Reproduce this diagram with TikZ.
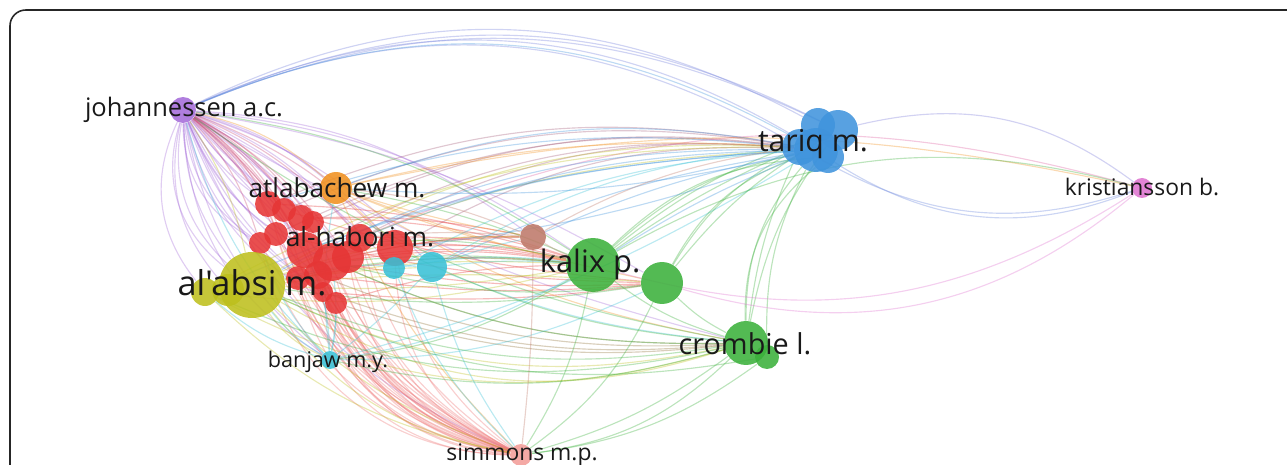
\documentclass[tikz,border=0pt]{standalone}
\usepackage{fontspec}
\setmainfont{Open Sans}[Ligatures=TeXOff]
\definecolor{cPurple}{HTML}{A46BD9}
\definecolor{cOrange}{HTML}{F0901E}
\definecolor{cRed}{HTML}{E63535}
\definecolor{cYellow}{HTML}{BDBF1C}
\definecolor{cCyan}{HTML}{37C0D6}
\definecolor{cBrown}{HTML}{BE7868}
\definecolor{cGreen}{HTML}{3AB03A}
\definecolor{cBlue}{HTML}{3F93DC}
\definecolor{cPink}{HTML}{DE72CF}
\definecolor{cSalmon}{HTML}{F29C98}
\pgfdeclarelayer{links}
\pgfsetlayers{links,main}
\begin{document}
\begin{tikzpicture}[x=0.02cm,y=0.02cm,
  lnk/.style={line width=0.65pt, draw opacity=0.34},
  bub/.style={circle, inner sep=0pt, minimum size=0.04cm*#1, fill opacity=0.87, draw=none},
  lab/.style={text=black!90, anchor=base, inner sep=0pt},
]
\useasboundingbox (0,0) rectangle (1287,-465);
\draw[line width=0.9pt, black!85, rounded corners=9] (10,-480) -- (10,-10) -- (1300,-10);

% ---- bubbles ----
\node[bub=13, fill=cPurple] (jo) at (183,-110) {};
\node[bub=16, fill=cOrange] (at) at (336,-188) {};
\node[bub=13, fill=cRed] (r1) at (268,-204) {};
\node[bub=12, fill=cRed] (r2) at (284,-210) {};
\node[bub=13, fill=cRed] (r3) at (301,-218) {};
\node[bub=11, fill=cRed] (r4) at (260,-243) {};
\node[bub=12, fill=cRed] (r5) at (276,-234) {};
\node[bub=18, fill=cRed] (r6) at (305,-250) {};
\node[bub=19, fill=cRed] (r7) at (332,-262) {};
\node[bub=16, fill=cRed] (r8) at (348,-257) {};
\node[bub=14, fill=cRed] (r9) at (318,-275) {};
\node[bub=14, fill=cRed] (r10) at (360,-238) {};
\node[bub=18, fill=cRed] (r11) at (395,-248) {};
\node[bub=11, fill=cRed] (r12) at (336,-303) {};
\node[bub=10, fill=cRed] (r13) at (323,-292) {};
\node[bub=12, fill=cRed] (r14) at (298,-278) {};
\node[bub=11, fill=cRed] (r15) at (313,-222) {};
\node[bub=14, fill=cYellow] (ab2) at (205,-292) {};
\node[bub=16, fill=cYellow] (ab3) at (228,-290) {};
\node[bub=33, fill=cYellow] (ab) at (252,-285) {};
\node[bub=11, fill=cCyan] (c2) at (394,-268) {};
\node[bub=15, fill=cCyan] (c1) at (432,-267) {};
\node[bub=9, fill=cCyan] (ban) at (330,-360) {};
\node[bub=13, fill=cBrown] (br) at (533,-237) {};
\node[bub=27, fill=cGreen] (ka) at (593,-265) {};
\node[bub=21, fill=cGreen] (g2) at (662,-283) {};
\node[bub=12, fill=cGreen] (cr2) at (767,-357) {};
\node[bub=22, fill=cGreen] (cr) at (746,-343) {};
\node[bub=20, fill=cBlue] (ta1) at (838,-130) {};
\node[bub=17, fill=cBlue] (ta5) at (818,-125) {};
\node[bub=18, fill=cBlue] (ta3) at (800,-147) {};
\node[bub=16, fill=cBlue] (ta4) at (828,-157) {};
\node[bub=22, fill=cBlue] (ta2) at (816,-150) {};
\node[bub=10, fill=cPink] (kr) at (1142,-188) {};
\node[bub=11, fill=cSalmon] (si) at (521,-455) {};

% ---- labels ----
\node[lab, font=\fontsize{14.5}{15}\selectfont] (ljo) at (184,-117) {johannessen a.c.};
\node[lab, font=\fontsize{14.9}{16}\selectfont] (lat) at (337,-198) {atlabachew m.};
\node[lab, font=\fontsize{15}{16}\selectfont] (lhab) at (360,-247) {al-habori m.};
\node[lab, font=\fontsize{19.5}{20}\selectfont] (lab1) at (252,-296) {al'absi m.};
\node[lab, font=\fontsize{12.3}{13}\selectfont] (lban) at (328,-368) {banjaw m.y.};
\node[lab, font=\fontsize{13}{14}\selectfont] (lsi) at (522,-460) {simmons m.p.};
\node[lab, font=\fontsize{17.6}{18}\selectfont] (lka) at (590,-273) {kalix p.};
\node[lab, font=\fontsize{16.4}{17}\selectfont] (lcr) at (745,-355) {crombie l.};
\node[lab, font=\fontsize{17.2}{18}\selectfont] (lta) at (813,-152) {tariq m.};
\node[lab, font=\fontsize{13}{14}\selectfont] (lkr) at (1142,-196) {kristiansson b.};

% ---- links ----
\begin{pgfonlayer}{links}
% johannessen fan
\foreach \t/\b in {ab/-28, ab2/-32, ab3/-26, r4/-24, r14/-20, ban/-28, r13/-18, r12/-15,
  r1/-12, r2/-8, r3/-5, r5/-14, r6/-10, r7/-6, r15/5, at/12, r10/14, r11/16, c2/10,
  c1/14, br/16, ka/14, si/-22, cr/-8, g2/10, r8/8, r9/-12, ab/-18, r6/4, r3/10, r1/8,
  ab/-35, r4/-30, r7/-20, r12/-26, ban/-20}
  \draw[lnk, cPurple] (jo) to[bend left=\b] (\t);
\foreach \i in {1,...,15}
  \draw[lnk, cRed!60!cPurple] (r\i) to[bend right=12] (jo);
\foreach \t/\b in {ta1/25, ta5/27, ta3/26, ta4/28, ta1/24}
  \draw[lnk, cPurple!50!cBlue] (jo) to[bend left=\b] (\t);
% red cluster
\foreach \i in {1,...,15} {
  \draw[lnk, cRed!70] (r\i) to[bend right=30] (si);
  \draw[lnk, cRed!70] (r\i) to[bend right=20] (si);
}
\foreach \i in {4,6,9,14}
  \draw[lnk, cRed!70] (r\i) to[bend right=38] (si);
\foreach \i in {1,3,6,7,8,10,11,12,14}
  \draw[lnk, cRed] (r\i) to[bend left=8] (ka);
\foreach \i in {2,5,7,9,13}
  \draw[lnk, cRed] (r\i) to[bend right=6] (g2);
\foreach \i in {1,2,5,6,10,11,15}
  \draw[lnk, cRed!60!cBlue] (r\i) to[bend left=16] (ta2);
\draw[lnk, cPink!70!cRed] (r10) to[bend left=19] (kr);
\foreach \i in {7,9,12,13}
  \draw[lnk, cRed!50!cGreen] (r\i) to[bend right=12] (cr);
\foreach \i in {3,8,11}
  \draw[lnk, cRed] (r\i) to[bend left=6] (br);
% al'absi
\foreach \t/\b in {ka/6, ka/-6, g2/4, cr/-18, cr/-24, br/10, si/-12, ta3/16, c1/3, ta2/11, si/-20, jo/-10, ban/-15}
  \draw[lnk, cYellow] (ab) to[bend left=\b] (\t);
\foreach \t/\b in {ka/-10, cr/-22, ta3/14, si/-16}
  \draw[lnk, cYellow] (ab2) to[bend left=\b] (\t);
% atlabachew
\foreach \t/\b in {ka/-5, ta3/8, g2/-4, br/-4, c1/-6, si/-10, kr/12, cr/-10, jo/-14}
  \draw[lnk, cOrange] (at) to[bend left=\b] (\t);
% cyan
\foreach \t/\b in {r6/-10, r7/-8, r12/-6, ab/10, ab2/12, jo/15, ka/-10, c1/-4, at/8, r4/12, ta2/-8, g2/-12}
  \draw[lnk, cCyan] (ban) to[bend left=\b] (\t);
\foreach \t/\b in {ka/5, br/4, ta3/12, ab/-8, si/-10, cr/-8}
  \draw[lnk, cCyan] (c1) to[bend left=\b] (\t);
\foreach \t/\b in {ka/8, ta2/12, si/-12}
  \draw[lnk, cCyan] (c2) to[bend left=\b] (\t);
% green
\foreach \t/\b in {ta1/10, ta2/15, ta3/5, ta4/20, ab/-8, r7/-5, r6/-10, at/-6, si/10, cr/-10, kr/22, jo/-12, ban/12}
  \draw[lnk, cGreen] (ka) to[bend left=\b] (\t);
\foreach \t/\b in {ta1/10, ta2/20, ta3/14, cr/-8, r7/10, ab/8, si/14}
  \draw[lnk, cGreen] (g2) to[bend left=\b] (\t);
\foreach \t/\b in {ta1/12, ta2/20, ta3/8, ta4/26, ab/15, ab2/18, r7/12, r11/10, si/10, si/18, jo/12, ban/14}
  \draw[lnk, cGreen] (cr) to[bend left=\b] (\t);
\foreach \t/\b in {ta2/14, ab/17, si/14}
  \draw[lnk, cGreen] (cr2) to[bend left=\b] (\t);
% tariq
\foreach \t/\b in {jo/-26, at/-15, at/8, r1/-12, r10/-10, r11/6, ab/-14, c1/-8, ka/-5, br/-6, ab2/-10, r6/-8}
  \draw[lnk, cBlue] (ta2) to[bend left=\b] (\t);
\draw[lnk, cBlue!40!cPurple] (ta1) to[bend left=25] (kr);
\draw[lnk, cBlue!60!cPurple] (ta2) to[bend left=-27] (kr);
\draw[lnk, cBlue!60!cPurple] (ta3) to[bend left=-24] (kr);
% brown
\foreach \t/\b in {ta3/10, ka/-4, r10/-5, ab/-8, at/-8, si/3}
  \draw[lnk, cBrown] (br) to[bend left=\b] (\t);
% kristiansson
\foreach \t/\b in {ka/24, g2/28}
  \draw[lnk, cPink] (kr) to[bend left=\b] (\t);
\end{pgfonlayer}
\end{tikzpicture}
\end{document}
